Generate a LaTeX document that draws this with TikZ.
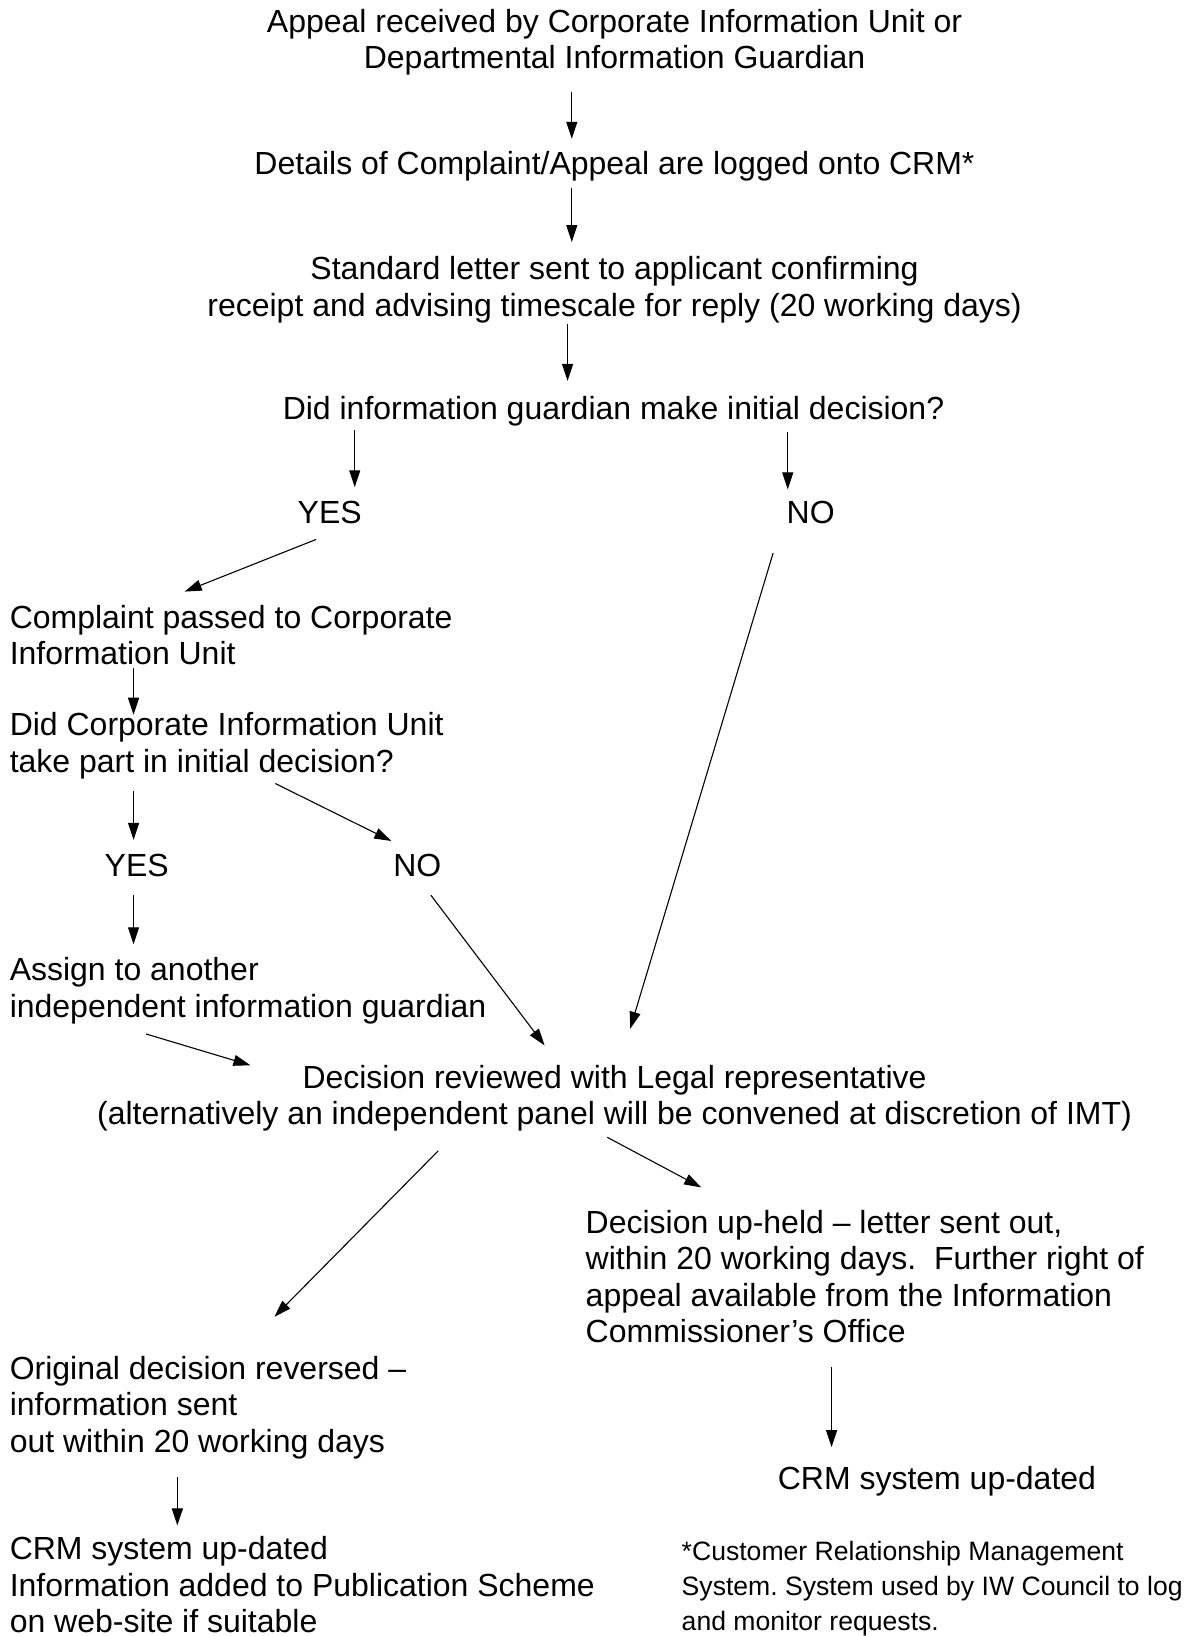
\documentclass[tikz,border=0pt]{standalone}
\usepackage{fontspec}
\setmainfont{Liberation Sans}
\usetikzlibrary{arrows.meta}
\begin{document}
\begin{tikzpicture}[x=0.5219pt,y=-0.5219pt,
  txt/.style={inner sep=0pt, font=\fontsize{16}{18.3}\selectfont},
  ctr/.style={txt, align=center, anchor=base},
  lft/.style={txt, align=left, anchor=base west},
  note/.style={inner sep=0pt, align=left, anchor=base west, font=\fontsize{13.3}{17.7}\selectfont},
  arr/.style={-{Triangle[length=8.5pt,width=5.5pt]}, line width=0.55pt}]
\useasboundingbox (0,0) rectangle (1141,1568);

% texts (anchor = baseline of the last line)
\node[ctr] (appeal) at (589,66) {Appeal received by Corporate Information Unit or\\Departmental Information Guardian};
\node[ctr] (details) at (589,167) {Details of Complaint/Appeal are logged onto CRM*};
\node[ctr] (letter) at (589,303) {Standard letter sent to applicant confirming\\receipt and advising timescale for reply (20 working days)};
\node[ctr] (didig) at (588,402) {Did information guardian make initial decision?};
\node[ctr] (yes1) at (316,502) {YES};
\node[ctr] (no1) at (777,502) {NO};
\node[lft] (passed) at (9,637) {Complaint passed to Corporate\\Information Unit};
\node[lft] (didciu) at (9,740) {Did Corporate Information Unit\\take part in initial decision?};
\node[ctr] (yes2) at (131,840) {YES};
\node[ctr] (no2) at (400,840) {NO};
\node[lft] (assign) at (9,975) {Assign to another\\independent information guardian};
\node[ctr] (review) at (589,1078) {Decision reviewed with Legal representative\\(alternatively an independent panel will be convened at discretion of IMT)};
\node[lft] (upheld) at (561,1287) {Decision up-held – letter sent out,\\within 20 working days.\ \ Further right of\\appeal available from the Information\\Commissioner’s Office};
\node[ctr] (crmr) at (898,1428) {CRM system up-dated};
\node[lft] (reversed) at (9,1392) {Original decision reversed –\\information sent\\out within 20 working days};
\node[lft] (crml) at (9,1565) {CRM system up-dated\\Information added to Publication Scheme\\on web-site if suitable};
\node[note] (foot) at (653,1563) {*Customer Relationship Management\\System.\ System used by IW Council to log\\and monitor requests.};

% connector ends
\coordinate (a1s) at (548,88);   \coordinate (a1e) at (548,133);
\coordinate (a2s) at (548,180);  \coordinate (a2e) at (548,232);
\coordinate (a3s) at (544,311);  \coordinate (a3e) at (544,365);
\coordinate (a4s) at (340,412);  \coordinate (a4e) at (340,467);
\coordinate (a5s) at (755,414);  \coordinate (a5e) at (755,469);
\coordinate (a6s) at (303,517);  \coordinate (a6e) at (177,567);
\coordinate (a7s) at (741,530);  \coordinate (a7e) at (604,986);
\coordinate (a8s) at (128,640);  \coordinate (a8e) at (128,685);
\coordinate (a9s) at (128,758);  \coordinate (a9e) at (128,805);
\coordinate (a10s) at (264,751); \coordinate (a10e) at (375,806);
\coordinate (a11s) at (128,858); \coordinate (a11e) at (128,905);
\coordinate (a12s) at (413,858); \coordinate (a12e) at (522,1002);
\coordinate (a13s) at (140,991); \coordinate (a13e) at (240,1021);
\coordinate (a14s) at (420,1103);\coordinate (a14e) at (263,1262);
\coordinate (a15s) at (582,1090);\coordinate (a15e) at (672,1138);
\coordinate (a16s) at (797,1310);\coordinate (a16e) at (797,1387);
\coordinate (a17s) at (170,1416);\coordinate (a17e) at (170,1462);

\foreach \i in {1,...,17} {\draw[arr] (a\i s) -- (a\i e);}
\end{tikzpicture}
\end{document}
